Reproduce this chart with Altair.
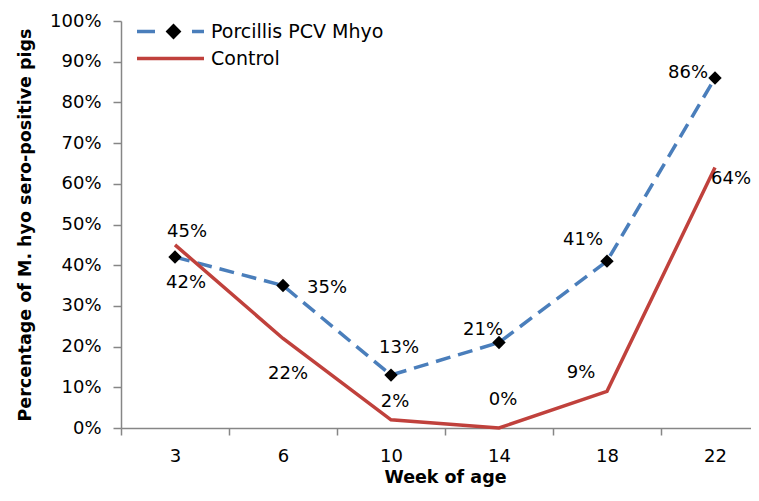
import altair as alt
import pandas as pd

weeks = [3, 6, 10, 14, 18, 22]
porcillis = [42, 35, 13, 21, 41, 86]
control = [45, 22, 2, 0, 9, 64]
series_names = ["Porcillis PCV Mhyo", "Control"]

# label placement (dx, dy) for each data label
porcillis_label_offsets = [(11, 26), (44, 2), (8, -27), (-16, -13), (-24, -21), (-27, -5)]
control_label_offsets = [(12, -13), (5, 36), (4, -18), (4, -28), (-26, -18), (16, 11)]

BLUE = "#4a7ebb"
RED = "#c0413c"
GRAY = "#868686"
FONT = "DejaVu Sans"

rows = []
for w, p, c in zip(weeks, porcillis, control):
    rows.append({"week": w, "series": series_names[0], "pct": p / 100})
    rows.append({"week": w, "series": series_names[1], "pct": c / 100})
df = pd.DataFrame(rows)

x_enc = alt.X(
    "week:O",
    scale=alt.Scale(type="band", range=[0, 648], paddingInner=0, paddingOuter=0),
    axis=alt.Axis(
        title="Week of age",
        labelAngle=0,
        tickBand="extent",
        tickSize=7,
        labelPadding=12,
        titlePadding=3,
        grid=False,
    ),
)
y_enc = alt.Y(
    "pct:Q",
    scale=alt.Scale(domain=[0, 1]),
    axis=alt.Axis(
        title="Percentage of M. hyo sero-positive pigs",
        format="%",
        values=[i / 10 for i in range(11)],
        tickSize=8,
        labelPadding=12,
        titlePadding=15,
        grid=False,
    ),
)

base = alt.Chart(df).encode(x=x_enc, y=y_enc)

leg_common = dict(
    orient="none",
    title=None,
    padding=0,
    offset=0,
    labelFont=FONT,
    labelFontSize=19,
    labelColor="black",
    labelOffset=5,
    labelLimit=400,
)

line_p = base.transform_filter(alt.datum.series == series_names[0]).mark_line(
    strokeDash=[15, 8], strokeWidth=3.5
).encode(
    color=alt.Color(
        "series:N",
        scale=alt.Scale(domain=[series_names[0]], range=[BLUE]),
        legend=alt.Legend(
            legendX=14, legendY=-25, symbolType="stroke", symbolSize=4489,
            symbolStrokeWidth=3.5, symbolDash=[18, 37, 12], **leg_common
        ),
    )
)

line_c = base.transform_filter(alt.datum.series == series_names[1]).mark_line(
    strokeWidth=3.5
).encode(
    color=alt.Color(
        "series:N",
        scale=alt.Scale(domain=[series_names[1]], range=[RED]),
        legend=alt.Legend(
            legendX=14, legendY=2, symbolType="stroke", symbolSize=4489,
            symbolStrokeWidth=3.5, **leg_common
        ),
    )
)

pts_leg = dict(leg_common)
pts_leg["labelExpr"] = "''"
points_p = base.transform_filter(alt.datum.series == series_names[0]).mark_point(
    shape="diamond", filled=True, size=180, opacity=1
).encode(
    color=alt.Color(
        "series:N",
        scale=alt.Scale(domain=[series_names[0]], range=["black"]),
        legend=alt.Legend(
            legendX=43, legendY=1, symbolType="diamond", symbolSize=250,
            symbolOpacity=1, **pts_leg
        ),
    )
)

layers = [line_p, line_c, points_p]
for sname, vals, offs in [
    (series_names[0], porcillis, porcillis_label_offsets),
    (series_names[1], control, control_label_offsets),
]:
    for w, (dx, dy) in zip(weeks, offs):
        layers.append(
            base.transform_filter(
                (alt.datum.series == sname) & (alt.datum.week == w)
            ).mark_text(
                dx=dx, dy=dy, font=FONT, fontSize=18, color="black",
                align="center", baseline="middle"
            ).encode(text=alt.Text("pct:Q", format=".0%"))
        )

chart = alt.layer(*layers).resolve_scale(color="independent").properties(
    width=630,
    height=407,
    autosize=alt.AutoSizeParams(type="none"),
    padding={"left": 113, "top": 13, "right": 0, "bottom": 60},
).configure_view(stroke=None).configure_axis(
    domainColor=GRAY,
    tickColor=GRAY,
    domainWidth=1.5,
    tickWidth=1.5,
    labelFont=FONT,
    labelFontSize=18,
    labelColor="black",
    titleFont=FONT,
    titleFontSize=17.5,
    titleFontWeight="bold",
    titleColor="black",
)

chart.save("out.html", embed_options={"renderer": "svg", "actions": False})
